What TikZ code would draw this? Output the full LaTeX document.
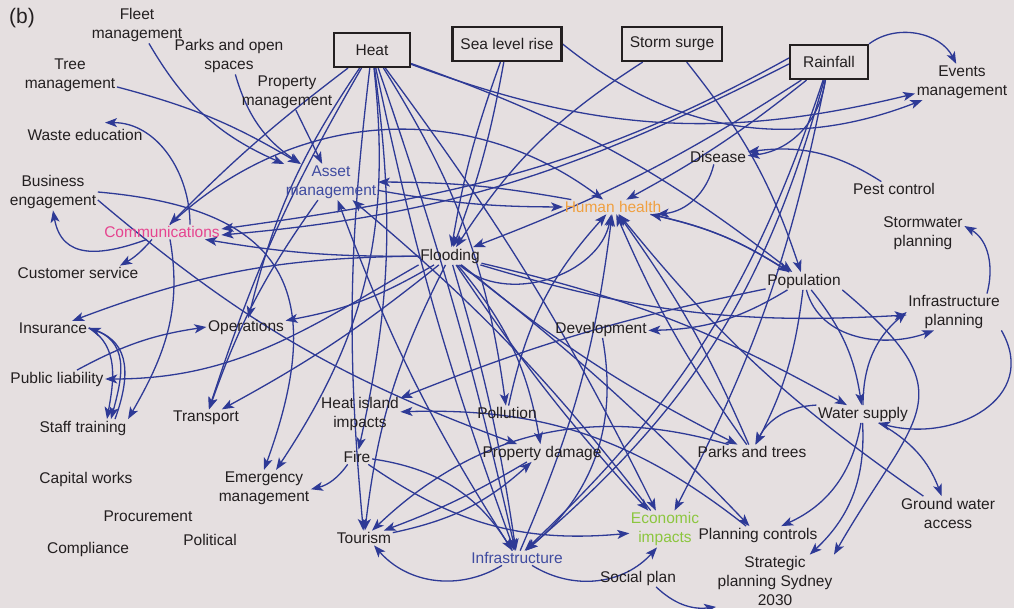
\documentclass[tikz,border=0pt]{standalone}
\usepackage{fontspec}
\setmainfont{Liberation Sans}
\usetikzlibrary{arrows.meta}
\definecolor{paper}{RGB}{229,223,224}
\definecolor{linkblue}{RGB}{46,58,150}
\definecolor{inkgray}{RGB}{35,31,32}
\definecolor{commpink}{RGB}{230,68,143}
\definecolor{healthorange}{RGB}{240,160,64}
\definecolor{econgreen}{RGB}{140,198,63}
\definecolor{assetblue}{RGB}{63,75,160}
\pgfdeclarelayer{paperlayer}
\pgfdeclarelayer{linklayer}
\pgfsetlayers{paperlayer,linklayer,main}

\tikzset{
  factor/.style={font=\fontsize{15.5}{19}\selectfont, text=inkgray, align=center, inner sep=1.5pt},
  driver/.style={factor, draw=inkgray, fill=paper, line width=2.2pt, minimum height=34pt, inner xsep=8pt},
  link/.style={draw=linkblue, line width=1.3pt, -{Stealth[length=12pt,width=9pt,inset=3pt]}},
}

\begin{document}
\begin{tikzpicture}[x=1pt,y=1pt]
  \begin{pgfonlayer}{paperlayer}
    \fill[paper] (0,0) rectangle (1014,608);
  \end{pgfonlayer}
  \useasboundingbox (0,0) rectangle (1014,608);

  \node[factor, font=\fontsize{21}{24}\selectfont] (panel) at (22,590) {(b)};

  % climate drivers
  \node[driver, minimum width=76pt] (heat) at (372,558) {Heat};
  \node[driver, minimum width=108pt] (sealevel) at (507,564) {Sea level rise};
  \node[driver, minimum width=100pt] (storm) at (672,564) {Storm surge};
  \node[driver, minimum width=78pt] (rainfall) at (829,546) {Rainfall};

  % council functions, left side
  \node[factor] (fleet) at (137,583) {Fleet\\management};
  \node[factor] (parksopen) at (229,552) {Parks and open\\spaces};
  \node[factor] (tree) at (70,533) {Tree\\management};
  \node[factor] (property) at (287,516) {Property\\management};
  \node[factor] (waste) at (85,473) {Waste education};
  \node[factor] (business) at (53,416) {Business\\engagement};
  \node[factor, text=commpink] (comms) at (162,376) {Communications};
  \node[factor] (customer) at (78,335) {Customer service};
  \node[factor] (insurance) at (53,280) {Insurance};
  \node[factor] (operations) at (246,281) {Operations};
  \node[factor] (publiclia) at (57,229) {Public liability};
  \node[factor] (staff) at (83,180) {Staff training};
  \node[factor] (transport) at (206,190) {Transport};
  \node[factor] (capital) at (86,129) {Capital works};
  \node[factor] (emergency) at (264,120) {Emergency\\management};
  \node[factor] (procurement) at (148,92) {Procurement};
  \node[factor] (political) at (210,68) {Political};
  \node[factor] (compliance) at (88,59) {Compliance};

  % impacts, middle and right
  \node[factor] (events) at (962,526) {Events\\management};
  \node[factor, text=assetblue] (asset) at (331,426) {Asset\\management};
  \node[factor, text=healthorange] (health) at (613,401) {Human health};
  \node[factor] (disease) at (718,451) {Disease};
  \node[factor] (pest) at (894,419) {Pest control};
  \node[factor] (stormwater) at (923,375) {Stormwater\\planning};
  \node[factor] (flooding) at (450,352) {Flooding};
  \node[factor] (population) at (804,327) {Population};
  \node[factor] (infraplan) at (954,296) {Infrastructure\\planning};
  \node[factor] (development) at (601,279) {Development};
  \node[factor] (heatisland) at (360,194) {Heat island\\impacts};
  \node[factor] (pollution) at (507,195) {Pollution};
  \node[factor] (water) at (863,194) {Water supply};
  \node[factor] (fire) at (357,151) {Fire};
  \node[factor] (propdamage) at (542,155) {Property damage};
  \node[factor] (parks) at (752,156) {Parks and trees};
  \node[factor] (groundwater) at (948,95) {Ground water\\access};
  \node[factor, text=econgreen] (economic) at (665,79) {Economic\\impacts};
  \node[factor] (planning) at (758,73) {Planning controls};
  \node[factor] (tourism) at (364,70) {Tourism};
  \node[factor, text=assetblue] (infra) at (517,50) {Infrastructure};
  \node[factor] (social) at (638,30) {Social plan};
  \node[factor] (strategic) at (775,27) {Strategic\\planning Sydney\\2030};

  \begin{pgfonlayer}{linklayer}
  % heat
  \draw[link] (heat) to[bend right=4] (comms);
  \draw[link] (heat) to[bend right=17] (events);
  \draw[link] (heat) to[bend left=9] (population);
  \draw[link] (heat) to[bend right=10] (operations);
  \draw[link] (heat) to[bend right=6] (transport);
  \draw[link] (heat) to[bend left=20] (emergency);
  \draw[link] (heat) to[bend left=3] (infra);
  \draw[link] (heat) to[bend right=4] (infra);
  \draw[link] (heat) to[bend left=5] (economic);
  \draw[link] (heat) to[bend left=12] (pollution);
  \draw[link] (heat) to[bend left=10] (fire);
  \draw[link] (heat) to[bend right=6] (tourism);

  % sea level rise, storm surge
  \draw[link] (sealevel) to[bend right=5] (flooding);
  \draw[link] (sealevel) to[bend left=5] (flooding);
  \draw[link] (sealevel.east) to[bend right=30] (events);
  \draw[link] (storm) to[bend right=12] (flooding);
  \draw[link] (storm) to[bend left=10] (population);

  % rainfall
  \draw[link] (rainfall.north east) to[bend left=50] (events);
  \draw[link] (rainfall) to[bend left=38] (disease);
  \draw[link] (rainfall) to[bend left=5] (health);
  \draw[link] ([yshift=4pt]rainfall.west) to[out=209,in=8] ([yshift=3pt]comms.east);
  \draw[link] ([yshift=-2pt]rainfall.west) to[out=207,in=5] ([yshift=-3pt]comms.east);
  \draw[link] (rainfall) to[bend left=6] (flooding);
  \draw[link] (rainfall) to[bend left=14] (infra);
  \draw[link] (rainfall) to[bend left=17] (infra);
  \draw[link] (rainfall) to[bend left=8] (economic);
  \draw[link] (pest) to[bend right=20] (disease);
  \draw[link] (disease) to[bend left=35] (health);

  % asset management and communications
  \draw[link] (fleet) to[bend right=18] (asset);
  \draw[link] (parksopen) to[bend right=20] (asset);
  \draw[link] (tree) to[bend left=8] (asset);
  \draw[link] (property) to (asset);
  \draw[link] (health) to[bend right=5] (asset);
  \draw[link] (asset) to[bend right=5] (health);
  \draw[link] (infra) to[bend left=6] (asset);
  \draw[link] (economic) to[bend right=6] (asset);
  \draw[link] (asset) to[bend right=8] (transport);
  \draw[link] (comms) to[bend left=40] (health);
  \draw[link] ([xshift=28pt]comms.north) to[out=90,in=0] ([xshift=20pt,yshift=5pt]waste.north);
  \draw[link] ([xshift=-15pt]comms.south) to[out=200,in=-80,looseness=1.3] (business.south);
  \draw[link] ([xshift=-10pt]comms.south) to[bend left=10] ([xshift=-20pt]customer.north east);
  \draw[link] ([xshift=8pt]comms.south) to[out=-80,in=60] (staff.north east);
  \draw[link] (business.east) to[out=-5,in=70,looseness=1.5] (emergency.north);
  \draw[link] ([yshift=-8pt]business.east) to[bend right=10] (propdamage);

  % insurance, liability, training
  \draw[link] (insurance.east) to[out=-30,in=80] ([xshift=24pt]staff.north);
  \draw[link] (insurance.east) to[out=-15,in=75,looseness=1.2] ([xshift=28pt]staff.north);
  \draw[link] ([xshift=32pt]staff.north) to[out=70,in=-20,looseness=1.2] (insurance.east);
  \draw[link] ([xshift=20pt]publiclia.north) to[bend left=10] (operations.west);

  % flooding
  \draw[link] (flooding) to[bend left=5] (comms);
  \draw[link] (flooding) to[bend right=10] (insurance);
  \draw[link] (flooding.south west) to[out=210,in=0] (publiclia.east);
  \draw[link] (flooding) to[bend left=10] (operations);
  \draw[link] (flooding) to[bend left=5] (transport);
  \draw[link] (flooding) to[bend right=10] (tourism);
  \draw[link] (flooding) to[bend left=4] (infra);
  \draw[link] (flooding) to[bend right=4] (economic);
  \draw[link] (flooding) to[bend left=15] (propdamage);
  \draw[link] (flooding) to[bend right=6] (parks);
  \draw[link] (flooding) to[bend left=8] (water);
  \draw[link] (flooding) to[bend left=4] (planning);
  \draw[link] (flooding) to[bend right=10] (infraplan);
  \draw[link] (flooding) to[bend right=60] (health);

  % human health
  \draw[link] (pollution) to[bend left=15] (health);
  \draw[link] (infra) to[bend right=8] (health);
  \draw[link] (parks) to[bend left=6] (health);
  \draw[link] (parks) to[bend right=6] (health);
  \draw[link] (population) to[bend right=10] (health);
  \draw[link] (groundwater) to[bend left=8] (health);
  \draw[link] (health) to[bend left=10] (population);

  % population and water supply
  \draw[link] (population) to[bend left=15] (development);
  \draw[link] (population) to[bend left=15] (water);
  \draw[link] (population) to[out=-75,in=200] ([xshift=-20pt]infraplan.south);
  \draw[link] (population.south east) to[out=-40,in=60,looseness=1.6] (strategic.north east);
  \draw[link] (population) to[bend left=10] (parks);
  \draw[link] (population) to[bend right=5] (heatisland);
  \draw[link] (water.north west) to[bend right=30] (parks);
  \draw[link] (water) to[bend left=28] (planning);
  \draw[link] (water) to[bend left=25] (strategic);
  \draw[link] (water) to[bend left=20] (groundwater);
  \draw[link] (infraplan.south east) to[out=-60,in=-15,looseness=1.3] ([xshift=15pt]water.south);
  \draw[link] (water.north) to[bend left=25] (infraplan.west);
  \draw[link] ([xshift=33pt]infraplan.north) to[out=75,in=-30] ([yshift=7pt]stormwater.east);

  % lower impacts
  \draw[link] (development) to[bend left=30] (infra);
  \draw[link] (planning) to[bend right=20] (heatisland);
  \draw[link] (parks) to[bend right=30] (tourism);
  \draw[link] (fire) to[bend left=20] (emergency);
  \draw[link] (fire) to[bend left=25] (infra);
  \draw[link] (fire) to[bend right=20] (economic);
  \draw[link] ([xshift=-15pt]infra.south) to[bend left=40] ([xshift=10pt]tourism.south);
  \draw[link] ([xshift=15pt]infra.south) to[bend right=40] ([xshift=-8pt]economic.south);
  \draw[link] (tourism) to[bend right=15] (propdamage);
  \draw[link] (propdamage) to[bend left=5] (tourism);
  \draw[link] (social) to[bend right=25] (strategic);
  \end{pgfonlayer}
\end{tikzpicture}
\end{document}
